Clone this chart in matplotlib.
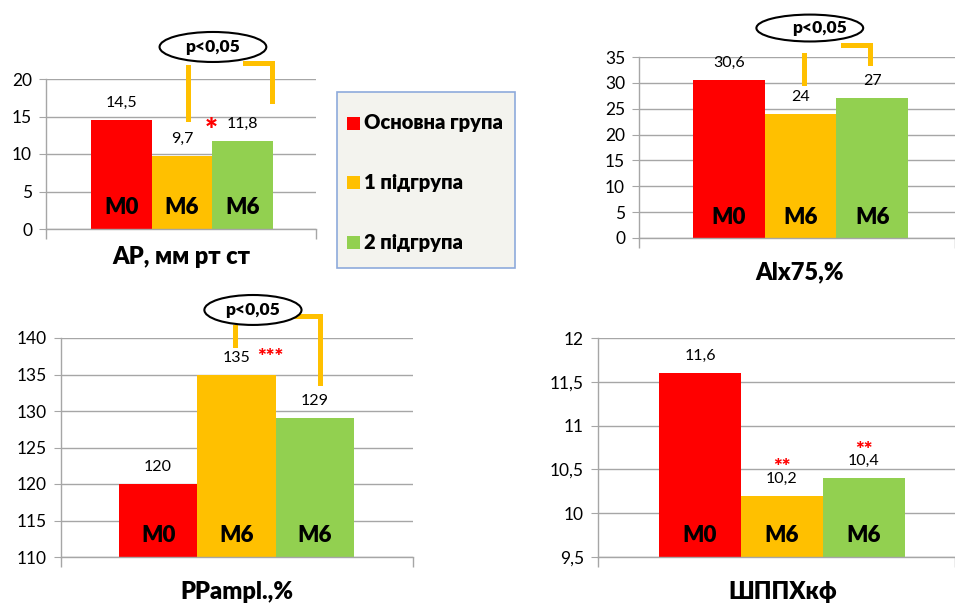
import matplotlib
matplotlib.use("Agg")
import matplotlib.pyplot as plt
from matplotlib.patches import Ellipse, Rectangle

plt.rcParams["font.family"] = ["Lato", "DejaVu Sans"]

W, H = 955, 606

RED = "#ff0000"
ORANGE = "#ffc000"
GREEN = "#92d050"
GRID = "#a6a6a6"
INK = "#000000"
HEAVY = "heavy"

groups = ["Основна група", "1 підгрупа", "2 підгрупа"]
visits = ["M0", "M6", "M6"]
colors = [RED, ORANGE, GREEN]

ap = [14.5, 9.7, 11.8]
aix75 = [30.6, 24, 27]
pp_ampl = [120, 135, 129]
shppx = [11.6, 10.2, 10.4]


def px_box(l, t, r, b):
    return [l / W, 1 - b / H, (r - l) / W, (b - t) / H]


def fmt(v):
    return f"{v:g}".replace(".", ",")


panels = [
    dict(values=ap, title="АР, мм рт ст", rect=(46, 79, 316, 229),
         ylim=(0, 20), step=5, xlim=(-1.242, 3.209), title_off=(0, 28),
         stars=[(2, "*", -31, 10, 22)],
         bracket=([(1.098, 14.67), (1.098, 21.6)],
                  [(2.04, 22.13), (2.49, 22.13), (2.49, 17.07)]),
         oval=(1.51, 24.27, 1.76, 4.0, 0)),
    dict(values=aix75, title="Alx75,%", rect=(639, 57, 955, 238),
         ylim=(0, 35), step=5, xlim=(-1.253, 3.156), title_off=(3, 34),
         stars=[],
         bracket=([(1.048, 29.97), (1.048, 35.39)],
                  [(1.59, 37.32), (1.97, 37.32), (1.97, 33.84)]),
         oval=(1.13, 40.6, 1.49, 5.2, 10)),
    dict(values=pp_ampl, title="PPampl.,%", rect=(61, 338, 413, 557),
         ylim=(110, 140), step=5, xlim=(-1.24, 3.253), title_off=(0, 35),
         stars=[(1, "***", 34, 17, 15)],
         bracket=([(0.98, 139.04), (0.98, 141.5)],
                  [(1.71, 143.0), (2.07, 143.0), (2.07, 133.8)]),
         oval=(1.21, 143.84, 1.24, 4.1, 0)),
    dict(values=shppx, title="ШППХкф", rect=(598, 338, 955, 557),
         ylim=(9.5, 12), step=0.5, xlim=(-1.244, 3.11), title_off=(6, 35),
         stars=[(1, "**", 0, 28, 15), (2, "**", 0, 28, 15)],
         bracket=None, oval=None),
]

fig = plt.figure(figsize=(W / 100, H / 100), dpi=100)
fig.patch.set_facecolor("white")

for p in panels:
    ax = fig.add_axes(px_box(*p["rect"]))
    ax.set_facecolor("white")
    lo, hi = p["ylim"]
    x = range(len(p["values"]))
    ax.bar(x, [v - lo for v in p["values"]], bottom=lo, width=1.0,
           color=colors, zorder=2)
    ax.set_xlim(*p["xlim"])
    ax.set_ylim(lo, hi)
    n = round((hi - lo) / p["step"])
    ticks = [lo + i * p["step"] for i in range(n + 1)]
    ax.set_yticks(ticks, [fmt(t) for t in ticks])
    ax.set_xticks(list(p["xlim"]), ["", ""])
    ax.grid(axis="y", color=GRID, linewidth=1)
    ax.set_axisbelow(True)
    for s in ("top", "right"):
        ax.spines[s].set_visible(False)
    for s in ("left", "bottom"):
        ax.spines[s].set_color(GRID)
        ax.spines[s].set_linewidth(1)
    ax.tick_params(axis="y", colors=GRID, labelcolor=INK, length=5,
                   labelsize=12.5, pad=5)
    ax.tick_params(axis="x", colors=GRID, length=7, width=1)

    for i, v in enumerate(p["values"]):
        ax.annotate(fmt(v), (i, v), xytext=(0, 17), textcoords="offset pixels",
                    ha="center", va="center", fontsize=11.5, color=INK,
                    annotation_clip=False)
        ax.annotate(visits[i], (i, lo), xytext=(0, 21),
                    textcoords="offset pixels", ha="center", va="center",
                    fontsize=16, fontweight=HEAVY, color=INK)

    # significance stars, red, beside or above the value labels
    for i, s, dx, dy, size in p["stars"]:
        ax.annotate(s, (i, p["values"][i]), xytext=(dx, dy),
                    textcoords="offset pixels", ha="center", va="center",
                    fontsize=size, fontweight=HEAVY, color=RED,
                    annotation_clip=False)

    if p["bracket"]:
        for seg in p["bracket"]:
            xs, ys = zip(*seg)
            ax.plot(xs, ys, color=ORANGE, linewidth=3.6, clip_on=False,
                    solid_joinstyle="miter", zorder=4)
    if p["oval"]:
        cx, cy, w, h, tdx = p["oval"]
        ax.add_patch(Ellipse((cx, cy), w, h, facecolor="white",
                             edgecolor=INK, linewidth=1.5, clip_on=False,
                             zorder=5))
        ax.annotate("p<0,05", (cx, cy), xytext=(tdx, 0),
                    textcoords="offset pixels", ha="center", va="center",
                    fontsize=12.5, fontweight=HEAVY, color=INK, zorder=6,
                    annotation_clip=False)

    tx, ty = p["title_off"]
    ax.annotate(p["title"], (0.5, 0), xycoords="axes fraction",
                xytext=(tx, -ty), textcoords="offset pixels",
                ha="center", va="center", fontsize=17, fontweight=HEAVY,
                color=INK)

# legend panel
fig.patches.append(Rectangle((337 / W, 1 - 268 / H), 178 / W, 176 / H,
                             transform=fig.transFigure, facecolor="#f3f3ee",
                             edgecolor="#8eaadb", linewidth=1.2))
for k, (name, c) in enumerate(zip(groups, colors)):
    yc = 1 - (123 + 59.5 * k) / H
    fig.patches.append(Rectangle((347 / W, yc - 6.5 / H), 13 / W, 13 / H,
                                 transform=fig.transFigure, facecolor=c,
                                 edgecolor="none"))
    fig.text(364 / W, yc, name, ha="left", va="center", fontsize=14.5,
             fontweight=HEAVY, color=INK)

fig.savefig("out.png", dpi=100, facecolor="white")
